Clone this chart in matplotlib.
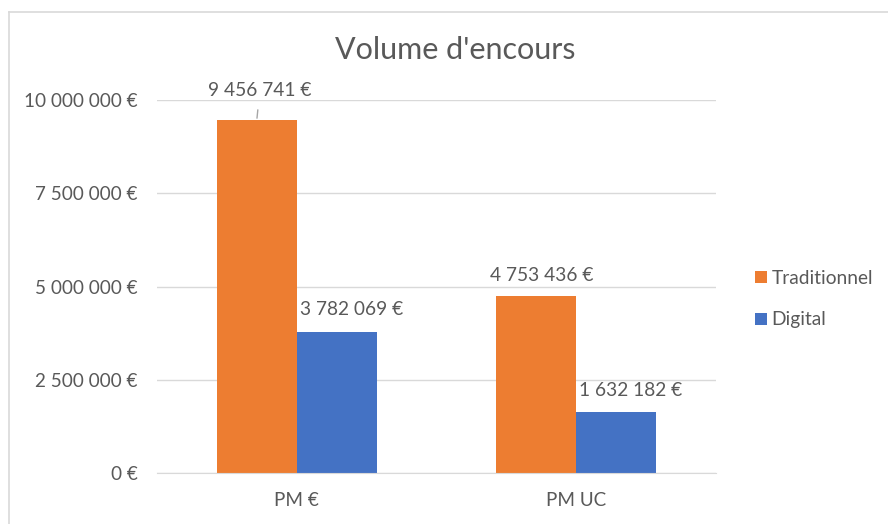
import matplotlib
matplotlib.use("Agg")
import matplotlib.pyplot as plt
from matplotlib.lines import Line2D
from matplotlib.ticker import FuncFormatter
import numpy as np

# chart data
categories = ["PM €", "PM UC"]
series_names = ["Traditionnel", "Digital"]
traditionnel = [9456741, 4753436]
digital = [3782069, 1632182]
y_ticks = [0, 2500000, 5000000, 7500000, 10000000]

ORANGE = "#ED7D31"
BLUE = "#4472C4"
TEXT = "#595959"
GRID = "#D9D9D9"
FONT = ["Lato", "DejaVu Sans"]

plt.rcParams["font.family"] = FONT


def euro(v, pos=None):
    return f"{v:,.0f}".replace(",", " ") + " €"


fig = plt.figure(figsize=(8.88, 5.24), dpi=100)
ax = fig.add_axes([157 / 888, 1 - 473 / 524, (716 - 157) / 888, (473 - 100) / 524])

x = np.arange(len(categories))
width = 0.286
bars_t = ax.bar(x - width / 2, traditionnel, width, color=ORANGE, label=series_names[0], zorder=3)
bars_d = ax.bar(x + width / 2, digital, width, color=BLUE, label=series_names[1], zorder=3)

ax.set_xlim(-0.5, len(categories) - 0.5)
ax.set_ylim(0, 10000000)
ax.set_yticks(y_ticks)
ax.yaxis.set_major_formatter(FuncFormatter(euro))
ax.set_xticks(x)
ax.set_xticklabels(categories)
ax.tick_params(axis="both", length=0, labelsize=13.6, labelcolor=TEXT)
ax.tick_params(axis="y", pad=14)
ax.tick_params(axis="x", pad=14)
ax.grid(True, axis="y", color=GRID, linewidth=1, zorder=0)
for side in ["top", "right", "left"]:
    ax.spines[side].set_visible(False)
ax.spines["bottom"].set_color(GRID)
ax.spines["bottom"].set_zorder(4)

# data labels (pixel offsets mimic Excel placement)
offsets = {
    (0, 0): (3, 30), (0, 1): (5, 20),
    (1, 0): (15, 22), (1, 1): (14, 22),
}
for s, bars in enumerate([bars_t, bars_d]):
    for i, b in enumerate(bars):
        dx, dy = offsets[(s, i)]
        xc = b.get_x() + b.get_width() / 2
        kw = {}
        if s == 0 and i == 0:
            kw["arrowprops"] = dict(arrowstyle="-", color="#A6A6A6", lw=1.0,
                                    shrinkA=6, shrinkB=1.5)
        ax.annotate(euro(b.get_height()), xy=(xc, b.get_height()),
                    xytext=(dx, dy), textcoords="offset pixels",
                    ha="center", va="center", fontsize=13.8, color=TEXT, **kw)

fig.text(455 / 888, 1 - 50 / 524, "Volume d'encours", ha="center", va="center",
         fontsize=22, color=TEXT)

fig.legend(handles=[bars_t, bars_d], labels=series_names, loc="center left",
           bbox_to_anchor=(738 / 888, 1 - 299 / 524), frameon=False,
           fontsize=13.8, labelcolor=TEXT, handlelength=0.6, handleheight=0.6,
           handletextpad=0.25, labelspacing=1.3)

# chart frame (top and left edges visible in the crop)
fig.add_artist(Line2D([9 / 888, 9 / 888], [0, 1 - 12 / 524], transform=fig.transFigure,
                      color=GRID, lw=1.2))
fig.add_artist(Line2D([9 / 888, 1], [1 - 12 / 524, 1 - 12 / 524], transform=fig.transFigure,
                      color=GRID, lw=1.2))

fig.savefig("out.png", dpi=100)
